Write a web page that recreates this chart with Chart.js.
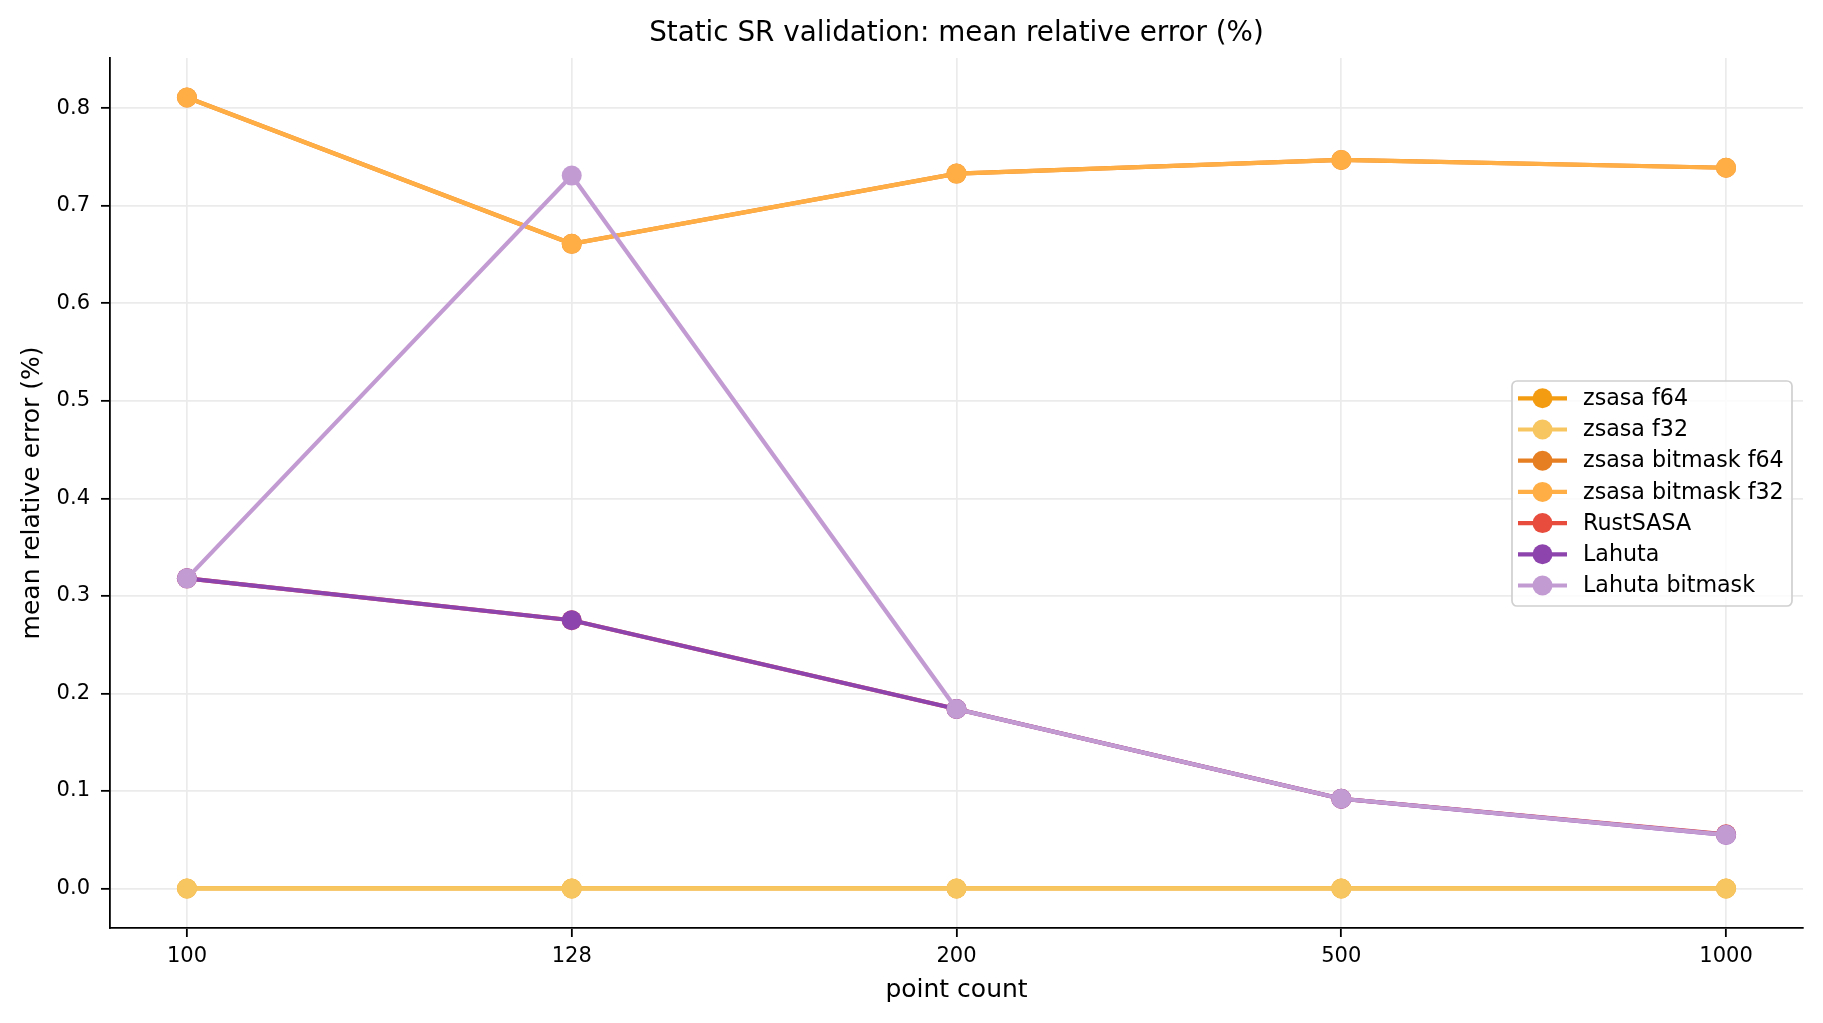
<!DOCTYPE html>
<html>
<head>
<meta charset="utf-8">
<script src="https://cdn.jsdelivr.net/npm/chart.js@4/dist/chart.umd.min.js"></script>
<style>
html,body{margin:0;padding:0;background:#fff;}
canvas{display:block;}
</style>
</head>
<body>
<canvas id="c" width="1823" height="1023"></canvas>
<script>
const categories = ['100', '128', '200', '500', '1000'];
const zsasaF64 = [0, 0, 0, 0, 0];
const zsasaF32 = [0, 0, 0, 0, 0];
const zsasaBitmaskF64 = [0.811, 0.661, 0.733, 0.747, 0.739];
const zsasaBitmaskF32 = [0.811, 0.661, 0.733, 0.747, 0.739];
const rustSasa = [0.318, 0.275, 0.184, 0.092, 0.0556];
const lahuta = [0.318, 0.275, 0.184, 0.092, 0.055];
const lahutaBitmask = [0.318, 0.731, 0.184, 0.092, 0.055];
const yTicks = [0.0, 0.1, 0.2, 0.3, 0.4, 0.5, 0.6, 0.7, 0.8];

const seriesNames = ['zsasa f64', 'zsasa f32', 'zsasa bitmask f64', 'zsasa bitmask f32', 'RustSASA', 'Lahuta', 'Lahuta bitmask'];
const seriesValues = [zsasaF64, zsasaF32, zsasaBitmaskF64, zsasaBitmaskF32, rustSasa, lahuta, lahutaBitmask];
const seriesColors = ['#f39c12', '#f7c660', '#e67e22', '#ffae45', '#e74c3c', '#8e44ad', '#c39bd3'];

const FONT = "'DejaVu Sans', sans-serif";
const LW = 4.2;
const PR = 10;

const allVals = seriesValues.flat();
const vmin = Math.min(...allVals), vmax = Math.max(...allVals);
const vr = vmax - vmin;
const yMin = vmin - 0.05 * vr, yMax = vmax + 0.05 * vr;
const xMin = -0.05 * (categories.length - 1), xMax = (categories.length - 1) * 1.05;

const datasets = seriesNames.map((name, i) => ({
  label: name,
  data: seriesValues[i].map((v, j) => ({x: j, y: v})),
  borderColor: seriesColors[i],
  backgroundColor: seriesColors[i],
  pointBackgroundColor: seriesColors[i],
  pointBorderColor: seriesColors[i],
  pointBorderWidth: 0,
  pointRadius: PR,
  borderWidth: LW,
  tension: 0,
  clip: false,
  order: seriesNames.length - i
}));

const decor = {
  id: 'decor',
  afterDraw(chart) {
    const ctx = chart.ctx;
    const ca = chart.chartArea;
    ctx.save();
    // title
    ctx.fillStyle = '#000';
    ctx.font = '27.8px ' + FONT;
    ctx.textAlign = 'center';
    ctx.textBaseline = 'middle';
    ctx.fillText('Static SR validation: mean relative error (%)', (ca.left + ca.right) / 2, 34);
    // legend
    const bx = 1512, by = 381, bw = 280, bh = 225, r = 5;
    ctx.beginPath();
    ctx.roundRect(bx, by, bw, bh, r);
    ctx.fillStyle = 'rgba(255,255,255,0.8)';
    ctx.fill();
    ctx.lineWidth = 1.7;
    ctx.strokeStyle = '#d0d0d0';
    ctx.stroke();
    ctx.font = '22.2px ' + FONT;
    ctx.textAlign = 'left';
    ctx.textBaseline = 'middle';
    seriesNames.forEach((name, i) => {
      const y = 398.3 + i * 31.2;
      ctx.strokeStyle = seriesColors[i];
      ctx.lineWidth = LW;
      ctx.beginPath();
      ctx.moveTo(1518, y);
      ctx.lineTo(1567, y);
      ctx.stroke();
      ctx.fillStyle = seriesColors[i];
      ctx.beginPath();
      ctx.arc(1542.5, y, PR, 0, Math.PI * 2);
      ctx.fill();
      ctx.fillStyle = '#000';
      ctx.fillText(name, 1583, y + 1);
    });
    ctx.restore();
  }
};

new Chart(document.getElementById('c'), {
  type: 'line',
  data: { datasets },
  options: {
    responsive: false,
    devicePixelRatio: 1,
    animation: false,
    layout: { padding: { top: 58, right: 20, left: 0, bottom: 0 } },
    plugins: {
      legend: { display: false },
      title: { display: false },
      tooltip: { enabled: false }
    },
    scales: {
      x: {
        type: 'linear',
        min: xMin,
        max: xMax,
        afterBuildTicks(scale) { scale.ticks = categories.map((c, i) => ({value: i})); },
        afterFit(scale) { scale.height = 95; scale.paddingLeft = 0; scale.paddingRight = 0; },
        ticks: {
          callback: (v) => categories[v],
          color: '#000',
          font: { family: FONT, size: 21 },
          padding: 7,
          maxRotation: 0,
          autoSkip: false
        },
        grid: {
          color: '#ebebeb',
          lineWidth: 1.7,
          tickColor: '#000',
          tickWidth: 1.8,
          tickLength: 9
        },
        border: { display: true, color: '#000', width: 1.8 },
        title: {
          display: true,
          text: 'point count',
          color: '#000',
          font: { family: FONT, size: 25 },
          padding: { top: 0, bottom: 18 }
        }
      },
      y: {
        type: 'linear',
        min: yMin,
        max: yMax,
        afterBuildTicks(scale) { scale.ticks = yTicks.map(v => ({value: v})); },
        afterFit(scale) { scale.width = 110; scale.paddingTop = 0; scale.paddingBottom = 0; },
        ticks: {
          callback: (v) => v.toFixed(1),
          color: '#000',
          font: { family: FONT, size: 21 },
          padding: 11
        },
        grid: {
          color: '#ebebeb',
          lineWidth: 1.7,
          tickColor: '#000',
          tickWidth: 1.8,
          tickLength: 9
        },
        border: { display: true, color: '#000', width: 1.8 },
        title: {
          display: true,
          text: 'mean relative error (%)',
          color: '#000',
          font: { family: FONT, size: 25 },
          padding: { top: 17.5, bottom: 0 }
        }
      }
    }
  },
  plugins: [decor]
});
</script>
</body>
</html>
